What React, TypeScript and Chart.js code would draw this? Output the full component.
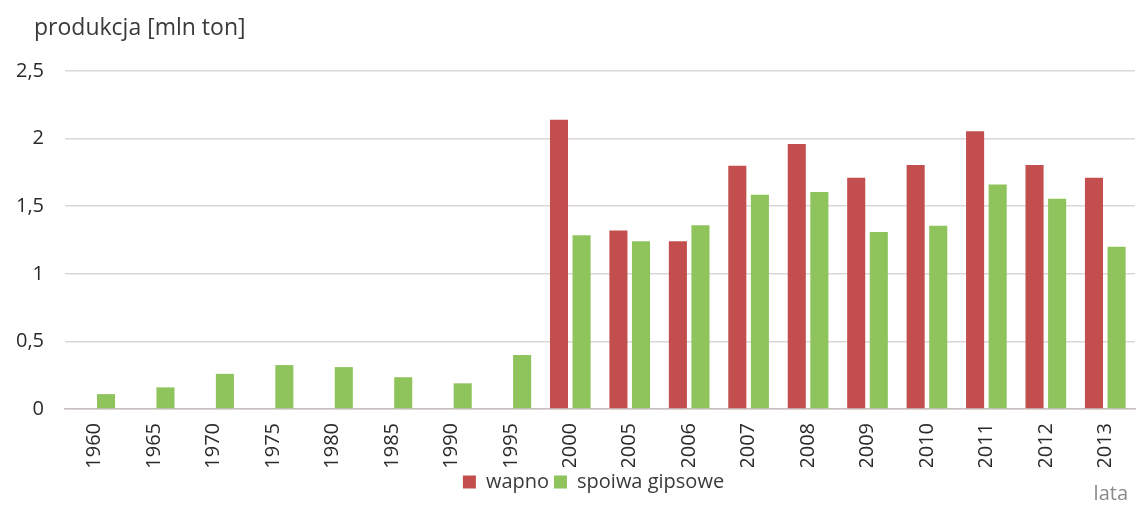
import React, { useEffect, useRef } from "react";
import { Chart, registerables } from "chart.js";

Chart.register(...registerables);

const categories = ["1960", "1965", "1970", "1975", "1980", "1985", "1990", "1995", "2000", "2005", "2006", "2007", "2008", "2009", "2010", "2011", "2012", "2013"];
const wapno = [null, null, null, null, null, null, null, null, 2.14, 1.32, 1.24, 1.8, 1.96, 1.71, 1.805, 2.055, 1.805, 1.71];
const spoiwaGipsowe = [0.11, 0.16, 0.26, 0.325, 0.31, 0.235, 0.19, 0.4, 1.285, 1.24, 1.36, 1.585, 1.605, 1.31, 1.355, 1.66, 1.555, 1.2];
const yTicks = [0, 0.5, 1, 1.5, 2, 2.5];
const yTitle = "produkcja [mln ton]";
const xTitle = "lata";
const seriesNames = ["wapno", "spoiwa gipsowe"];

const FONT = "'Open Sans', 'Noto Sans', sans-serif";

const titlesPlugin = {
  id: "titlesPlugin",
  afterLayout(chart: any) {
    const lg = chart.legend;
    if (lg) {
      lg.left += 18;
      lg.right += 18;
    }
  },
  afterDraw(chart: any) {
    const ctx = chart.ctx;
    ctx.save();
    ctx.font = `23px ${FONT}`;
    ctx.fillStyle = "#3a3a3a";
    ctx.textBaseline = "middle";
    ctx.textAlign = "left";
    ctx.fillText(yTitle, 34, 28);
    ctx.font = `20px ${FONT}`;
    ctx.fillStyle = "#8a8a8a";
    ctx.textAlign = "right";
    ctx.fillText(xTitle, 1128, 494);
    ctx.restore();
  },
};

export default function App() {
  const ref = useRef<HTMLCanvasElement | null>(null);
  useEffect(() => {
    if (!ref.current) return;
    const chart = new Chart(ref.current, {
      type: "bar",
      data: {
        labels: categories,
        datasets: [
          {
            label: seriesNames[0],
            data: wapno as any,
            backgroundColor: "#c24f4e",
            categoryPercentage: 0.76,
            barPercentage: 0.8,
          },
          {
            label: seriesNames[1],
            data: spoiwaGipsowe,
            backgroundColor: "#8fc35c",
            categoryPercentage: 0.76,
            barPercentage: 0.8,
          },
        ],
      },
      options: {
        animation: false,
        responsive: false,
        maintainAspectRatio: false,
        layout: { padding: { top: 71, left: 16, right: 11, bottom: 4 } },
        plugins: {
          legend: {
            position: "bottom",
            labels: {
              boxWidth: 13,
              boxHeight: 13,
              padding: 5,
              color: "#3a3a3a",
              font: { family: FONT, size: 20 },
            },
          },
          tooltip: { enabled: false },
        },
        scales: {
          x: {
            afterFit: (axis: any) => {
              axis.height = 58;
            },
            grid: { display: false, drawTicks: false },
            border: { display: true, color: "#c8c0c0", width: 1.5 },
            ticks: {
              minRotation: 90,
              maxRotation: 90,
              padding: 14,
              color: "#2a2a2a",
              font: { family: FONT, size: 20 },
            },
          },
          y: {
            min: 0,
            max: 2.5,
            afterFit: (axis: any) => {
              axis.width = 49;
            },
            afterBuildTicks: (axis: any) => {
              axis.ticks = yTicks.map((v) => ({ value: v }));
            },
            grid: { color: "#ddd6d6", lineWidth: 1.5, drawTicks: false },
            border: { display: false },
            ticks: {
              padding: 21,
              color: "#2a2a2a",
              font: { family: FONT, size: 20 },
              callback: (v: any) => String(v).replace(".", ","),
            },
          },
        },
      },
      plugins: [titlesPlugin],
    });
    return () => chart.destroy();
  }, []);
  return (
    <div style={{ position: "absolute", left: 0, top: 0, width: 1146, height: 506, background: "#fff" }}>
      <canvas ref={ref} width={1146} height={506} style={{ width: 1146, height: 506 }} />
    </div>
  );
}
